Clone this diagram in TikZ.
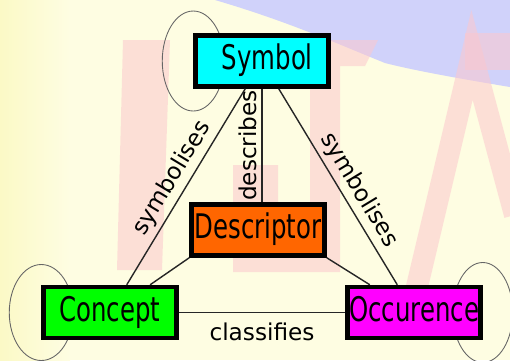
\documentclass[tikz,border=0pt]{standalone}
\usepackage{fontspec}
\setmainfont{DejaVu Sans}
\newfontfamily\boxfont[FakeStretch=0.72]{DejaVu Sans}
\definecolor{paper}{RGB}{254,253,226}
\definecolor{paperedge}{RGB}{251,249,198}
\definecolor{lavender}{RGB}{208,210,250}
\definecolor{wmark}{RGB}{252,200,205}
\definecolor{symbolcyan}{RGB}{0,255,255}
\definecolor{descorange}{RGB}{255,102,0}
\definecolor{conceptgreen}{RGB}{0,255,0}
\definecolor{occmagenta}{RGB}{255,0,255}
\pgfdeclarelayer{paperlayer}
\pgfdeclarelayer{looplayer}
\pgfsetlayers{paperlayer,looplayer,main}
\tikzset{
  termbox/.style={draw=black, line width=0.09cm, minimum width=2.66cm,
    minimum height=1.02cm, inner sep=0pt, text height=14.7pt, text depth=4.6pt,
    font=\boxfont\fontsize{19.3}{23}\selectfont},
  relation/.style={draw=black!85, line width=0.8pt},
  rellabel/.style={font=\fontsize{13.2}{16}\selectfont, inner sep=2.5pt},
  selfloop/.style={draw=black!60, line width=0.5pt},
  wstroke/.style={draw=wmark, opacity=0.55, line width=0.44cm}
}
\begin{document}
\begin{tikzpicture}[x=0.02cm, y=-0.02cm]
\useasboundingbox (0,0) rectangle (510,360);
\node[termbox, fill=symbolcyan] (symbol) at (262,61) {\hspace{6pt}Symbol};
\node[termbox, fill=descorange] (descriptor) at (258,230) {Descriptor};
\node[termbox, fill=conceptgreen] (concept) at (110,312.5) {Concept};
\node[termbox, fill=occmagenta] (occurence) at (414,312.5) {Occurence};
\draw[relation] (concept) -- node[rellabel, sloped, above] {symbolises} (symbol);
\draw[relation] (symbol) -- node[rellabel, sloped, above, pos=0.56] {symbolises} (occurence);
\draw[relation] (descriptor.north -| symbol.south) -- node[rellabel, sloped, above] {describes} (symbol.south);
\draw[relation] (concept) -- (descriptor.south west);
\draw[relation] (descriptor.south east) -- (occurence);
\draw[relation] (concept) -- node[rellabel, below=3pt] {classifies} (occurence);
\begin{pgfonlayer}{looplayer}
\draw[selfloop] (symbol.west) ellipse [x radius=31, y radius=50];
\draw[selfloop] (concept.west) ellipse [x radius=32, y radius=48];
\draw[selfloop] (occurence.east) ellipse [x radius=30, y radius=50];
\end{pgfonlayer}
\begin{pgfonlayer}{paperlayer}
\clip (0,0) rectangle (510,360);
\fill[paper] (0,0) rectangle (510,360);
\shade[left color=paperedge, right color=paper] (0,0) rectangle (70,360);
\fill[lavender] (215,0) -- (510,0) -- (510,87) .. controls (480,82) and (420,72) .. (385,63)
  .. controls (340,45) and (290,22) .. (215,0) -- cycle;
\fill[wmark, opacity=0.55] (123,40) -- (170,40) -- (162,270) -- (117,270) -- cycle;
\fill[wmark, opacity=0.55] (310,40) -- (378,40) -- (365,66) -- (340,66) -- (340,272)
  -- (233,272) -- (233,165) -- (278,165) -- (278,258) -- (310,258) -- cycle;
\draw[wstroke] (415,295) -- (472,55) -- (515,215);
\fill[wmark, opacity=0.55] (465,33) rectangle (510,70);
\end{pgfonlayer}
\end{tikzpicture}
\end{document}
